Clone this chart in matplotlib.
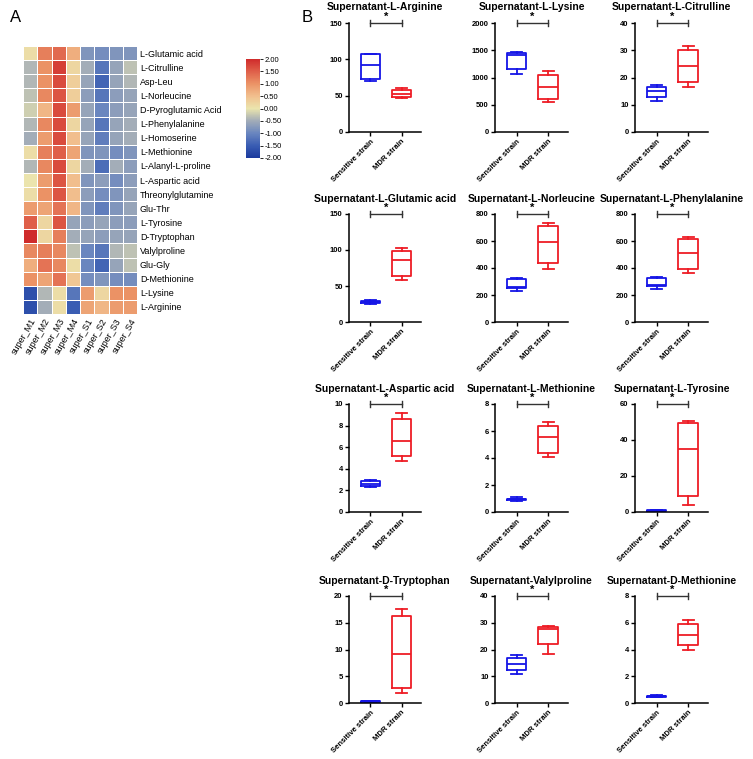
import numpy as np
import matplotlib
matplotlib.use("Agg")
import matplotlib.pyplot as plt
from matplotlib.colors import LinearSegmentedColormap

plt.rcParams['font.family'] = ['Liberation Sans', 'DejaVu Sans']
plt.rcParams['axes.unicode_minus'] = False

# ---------------- Panel A data ----------------
hm_rows = ["L-Glutamic acid", "L-Citrulline", "Asp-Leu", "L-Norleucine",
           "D-Pyroglutamic Acid", "L-Phenylalanine", "L-Homoserine", "L-Methionine",
           "L-Alanyl-L-proline", "L-Aspartic acid", "Threonylglutamine", "Glu-Thr",
           "L-Tyrosine", "D-Tryptophan", "Valylproline", "Glu-Gly", "D-Methionine",
           "L-Lysine", "L-Arginine"]
hm_cols = ["super_M1", "super_M2", "super_M3", "super_M4",
           "super_S1", "super_S2", "super_S3", "super_S4"]
hm_values = np.array([
    [0.1, 1.2, 1.4, 0.7, -0.8, -0.9, -0.8, -0.8],
    [-0.4, 1.0, 1.8, 0.2, -0.5, -1.2, -0.6, -0.3],
    [-0.4, 1.0, 1.7, 0.3, -0.6, -1.4, -0.6, -0.4],
    [-0.3, 1.1, 1.6, 0.3, -0.7, -1.2, -0.7, -0.6],
    [-0.2, 0.6, 1.7, 0.9, -0.6, -1.0, -0.7, -0.6],
    [-0.4, 1.1, 1.7, 0.2, -0.6, -1.2, -0.6, -0.5],
    [-0.5, 0.9, 1.7, 0.5, -0.6, -1.1, -0.6, -0.5],
    [0.1, 1.2, 1.5, 0.8, -0.8, -0.8, -0.9, -0.8],
    [-0.4, 1.1, 1.7, 0.2, -0.5, -1.3, -0.5, -0.7],
    [0.0, 0.9, 1.6, 0.5, -0.8, -0.7, -0.9, -0.7],
    [0.1, 1.0, 1.6, 0.5, -0.7, -0.9, -0.8, -0.6],
    [0.9, 0.8, 1.3, 0.6, -0.8, -1.1, -0.8, -0.6],
    [1.5, 0.2, 1.6, -0.6, -0.7, -0.6, -0.7, -0.7],
    [2.0, 0.2, 1.2, -0.5, -0.6, -0.7, -0.6, -0.6],
    [1.1, 1.2, 1.1, -0.3, -1.0, -1.2, -0.4, -0.3],
    [0.7, 1.3, 1.1, 0.1, -1.0, -1.4, -0.6, -0.3],
    [1.0, 0.8, 1.3, 0.4, -0.9, -0.8, -0.9, -0.9],
    [-1.7, -0.4, 0.1, -1.2, 0.9, 0.2, 1.0, 1.0],
    [-1.7, -0.5, 0.1, -1.5, 0.8, 0.6, 0.9, 0.9],
])
cbar_ticks = [-2.0, -1.5, -1.0, -0.5, 0.0, 0.5, 1.0, 1.5, 2.0]

# ---------------- Panel B data (min, q1, median, q3, max) ----------------
groups = ["Sensitive strain", "MDR strain"]
titles = ["Supernatant-L-Arginine", "Supernatant-L-Lysine", "Supernatant-L-Citrulline",
          "Supernatant-L-Glutamic acid", "Supernatant-L-Norleucine", "Supernatant-L-Phenylalanine",
          "Supernatant-L-Aspartic acid", "Supernatant-L-Methionine", "Supernatant-L-Tyrosine",
          "Supernatant-D-Tryptophan", "Supernatant-Valylproline", "Supernatant-D-Methionine"]
sens_stats = [
    [70, 73, 92, 107, 108],
    [1065, 1158, 1420, 1443, 1467],
    [11.5, 12.8, 15.2, 16.5, 17.1],
    [25, 26, 28, 29.5, 30.3],
    [229, 252, 258, 318, 325],
    [241, 270, 275, 325, 330],
    [2.3, 2.43, 2.6, 2.83, 2.98],
    [0.84, 0.88, 0.95, 1.0, 1.08],
    [0.3, 0.4, 0.6, 0.9, 1.0],
    [0.15, 0.2, 0.3, 0.4, 0.45],
    [11.0, 12.5, 14.5, 17.0, 18.0],
    [0.45, 0.48, 0.52, 0.56, 0.6],
]
mdr_stats = [
    [47, 48, 52, 58, 61],
    [557, 613, 824, 1046, 1115],
    [16.5, 18.3, 24.1, 30.0, 31.6],
    [58.2, 64.3, 85.7, 98.7, 102.5],
    [393, 435, 596, 708, 733],
    [360, 390, 509, 614, 633],
    [4.74, 5.14, 6.6, 8.58, 9.14],
    [4.04, 4.38, 5.57, 6.4, 6.65],
    [3.9, 9.0, 35.1, 49.7, 50.8],
    [1.8, 2.8, 9.1, 16.2, 17.5],
    [18.5, 22.0, 27.5, 28.3, 28.6],
    [4.0, 4.3, 5.1, 5.9, 6.2],
]
y_tops = [150, 2000, 40, 150, 800, 800, 10, 8, 60, 20, 40, 8]
y_steps = [50, 500, 10, 50, 200, 200, 2, 2, 20, 5, 10, 2]

W, H = 753, 759
fig = plt.figure(figsize=(W / 100, H / 100), dpi=100)


def ax_px(x0, y0, x1, y1):
    return fig.add_axes([x0 / W, 1 - y1 / H, (x1 - x0) / W, (y1 - y0) / H])


# ---------------- Panel A ----------------
cmap = LinearSegmentedColormap.from_list("hm", [
    (0.0, "#1b3a9e"), (0.125, "#3a5db3"), (0.25, "#6a86bf"), (0.375, "#a2acb8"),
    (0.5, "#ebe5ad"), (0.625, "#f1bf8e"), (0.75, "#eb9366"), (0.875, "#df604a"),
    (1.0, "#cf2b2b")])

axh = ax_px(23, 46, 137, 314)
mesh = axh.pcolormesh(hm_values, cmap=cmap, vmin=-2, vmax=2,
                      edgecolors="white", linewidth=0.6)
axh.set_xlim(0, len(hm_cols))
axh.set_ylim(len(hm_rows), 0)
axh.set_yticks(np.arange(len(hm_rows)) + 0.5)
axh.set_yticklabels(hm_rows, fontsize=6.5)
axh.yaxis.tick_right()
axh.set_xticks(np.arange(len(hm_cols)) + 0.5)
axh.set_xticklabels(hm_cols, fontsize=6.5, rotation=60, ha="right", rotation_mode="anchor")
axh.tick_params(length=0, pad=2)
for s in axh.spines.values():
    s.set_visible(False)

axc = ax_px(246, 59, 260, 158)
cb = fig.colorbar(mesh, cax=axc, ticks=cbar_ticks)
cb.ax.set_yticklabels([f"{t:.2f}" for t in cbar_ticks], fontsize=5.5)
cb.outline.set_visible(False)
cb.ax.tick_params(length=2, width=0.6, pad=1)

fig.text(10 / W, 1 - 18 / H, "A", fontsize=12, ha="left", va="center")
fig.text(302 / W, 1 - 18 / H, "B", fontsize=12, ha="left", va="center")

# ---------------- Panel B ----------------
col_x = [(349, 421), (495, 568), (635, 708)]
row_y = [(23, 132), (214, 322), (404, 512), (596, 703)]
colors = ["#1515e6", "#ee1c25"]

for i in range(12):
    r, c = divmod(i, 3)
    ax = ax_px(col_x[c][0], row_y[r][0], col_x[c][1], row_y[r][1])
    stats = []
    for st in (sens_stats[i], mdr_stats[i]):
        stats.append(dict(whislo=st[0], q1=st[1], med=st[2], q3=st[3], whishi=st[4], fliers=[]))
    for k in range(2):
        col = colors[k]
        ax.bxp([stats[k]], positions=[k + 1], widths=0.62, capwidths=0.36,
               showfliers=False, manage_ticks=False,
               boxprops=dict(color=col, linewidth=1.3),
               whiskerprops=dict(color=col, linewidth=1.3),
               capprops=dict(color=col, linewidth=1.3),
               medianprops=dict(color=col, linewidth=1.3))
    top = y_tops[i]
    ax.set_ylim(0, top)
    ax.set_xlim(0.32, 2.62)
    ax.set_yticks(np.arange(0, top + y_steps[i] / 2, y_steps[i]))
    ax.set_xticks([1, 2])
    ax.set_xticklabels(groups, rotation=45, ha="right", rotation_mode="anchor",
                       fontsize=5.5, fontweight="bold")
    for lab in ax.get_yticklabels():
        lab.set_fontsize(5.5)
        lab.set_fontweight("bold")
    ax.tick_params(length=3, width=1.0, pad=1.5)
    ax.spines["top"].set_visible(False)
    ax.spines["right"].set_visible(False)
    ax.spines["left"].set_linewidth(1.1)
    ax.spines["bottom"].set_linewidth(1.1)
    ax.set_title(titles[i], fontsize=7.5, fontweight="bold", pad=9)
    # significance bracket
    cap = top * 0.025
    ax.plot([1, 2], [top, top], color="#333333", lw=1.0, clip_on=False)
    ax.plot([1, 1], [top - cap, top + cap], color="#333333", lw=1.0, clip_on=False)
    ax.plot([2, 2], [top - cap, top + cap], color="#333333", lw=1.0, clip_on=False)
    ax.text(1.5, top + top * 0.01, "*", ha="center", va="bottom",
            fontsize=8, fontweight="bold", clip_on=False)

fig.savefig("out.png", dpi=100)
